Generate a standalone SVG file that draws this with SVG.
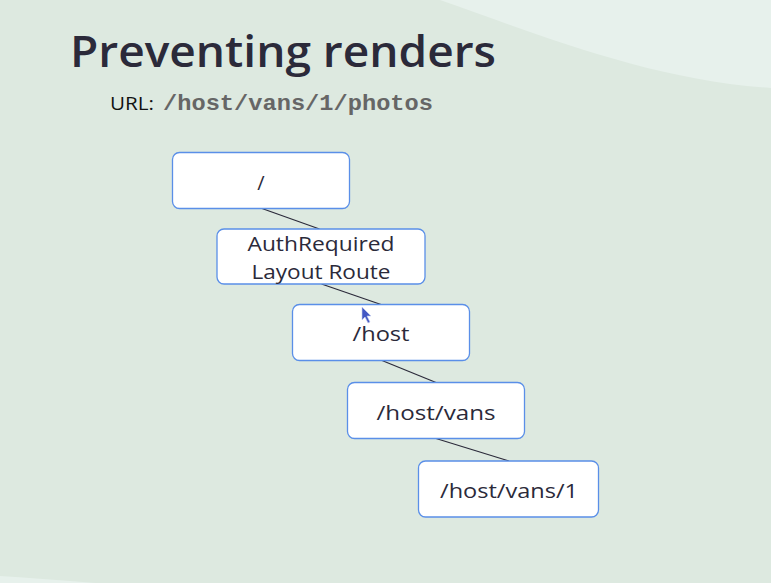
<svg xmlns="http://www.w3.org/2000/svg" width="771" height="583" viewBox="0 0 771 583">
<style>
.node rect{fill:#ffffff;stroke:#5a8fe8;stroke-width:1.3}
.node text{font-family:"Open Sans","DejaVu Sans",sans-serif;font-size:20px;fill:#2b2a3a;text-anchor:middle}
.conn line{stroke:#2b2a3a;stroke-width:1.2}
</style>
<rect x="0" y="0" width="771" height="583" fill="#dde9e0"/>
<path d="M440,0 C540,35 650,80 771,88 L771,0 Z" fill="#e7f1ec"/>
<path d="M0,576 Q45,579 95,583 L0,583 Z" fill="#e7f1ec"/>
<text x="70" y="67" font-family="'Open Sans','DejaVu Sans',sans-serif" font-weight="600" font-size="44" fill="#2b2a3a" textLength="426" lengthAdjust="spacingAndGlyphs">Preventing renders</text>
<text x="110" y="110" font-family="'Open Sans','DejaVu Sans',sans-serif" font-size="19" fill="#111" textLength="44" lengthAdjust="spacingAndGlyphs">URL:</text>
<text x="163" y="110" font-family="'Liberation Mono','Courier New',monospace" font-weight="bold" font-size="22" fill="#666" textLength="270" lengthAdjust="spacingAndGlyphs">/host/vans/1/photos</text>
<g class="conn" id="connectors">
<line x1="262" y1="208.5" x2="319.5" y2="229"/>
<line x1="321.5" y1="284" x2="381" y2="304.5"/>
<line x1="382" y1="360.5" x2="436" y2="382.5"/>
<line x1="436" y1="438.5" x2="509" y2="461"/>
</g>
<g class="node" id="node-root">
<rect x="172.5" y="152.5" width="177" height="56" rx="7"/>
<text x="261" y="190">/</text>
</g>
<g class="node" id="node-auth">
<rect x="217" y="229" width="208" height="55" rx="7"/>
<text x="321" y="251" textLength="147" lengthAdjust="spacingAndGlyphs">AuthRequired</text>
<text x="321" y="279" textLength="139" lengthAdjust="spacingAndGlyphs">Layout Route</text>
</g>
<g class="node" id="node-host">
<rect x="292.5" y="304.5" width="177" height="56" rx="7"/>
<text x="381" y="341" textLength="57" lengthAdjust="spacingAndGlyphs">/host</text>
</g>
<g class="node" id="node-vans">
<rect x="347.5" y="382.5" width="177" height="56" rx="7"/>
<text x="436" y="420" textLength="119" lengthAdjust="spacingAndGlyphs">/host/vans</text>
</g>
<g class="node" id="node-van1">
<rect x="418.5" y="461" width="180" height="56" rx="7"/>
<text x="509" y="498" textLength="138" lengthAdjust="spacingAndGlyphs">/host/vans/1</text>
</g>
<path d="M362,307 L362,320 L365,317 L368,323 L370,322 L367,316 L371,316 Z" fill="#4257c4" stroke="#c8d0f0" stroke-width="0.6"/>
</svg>
